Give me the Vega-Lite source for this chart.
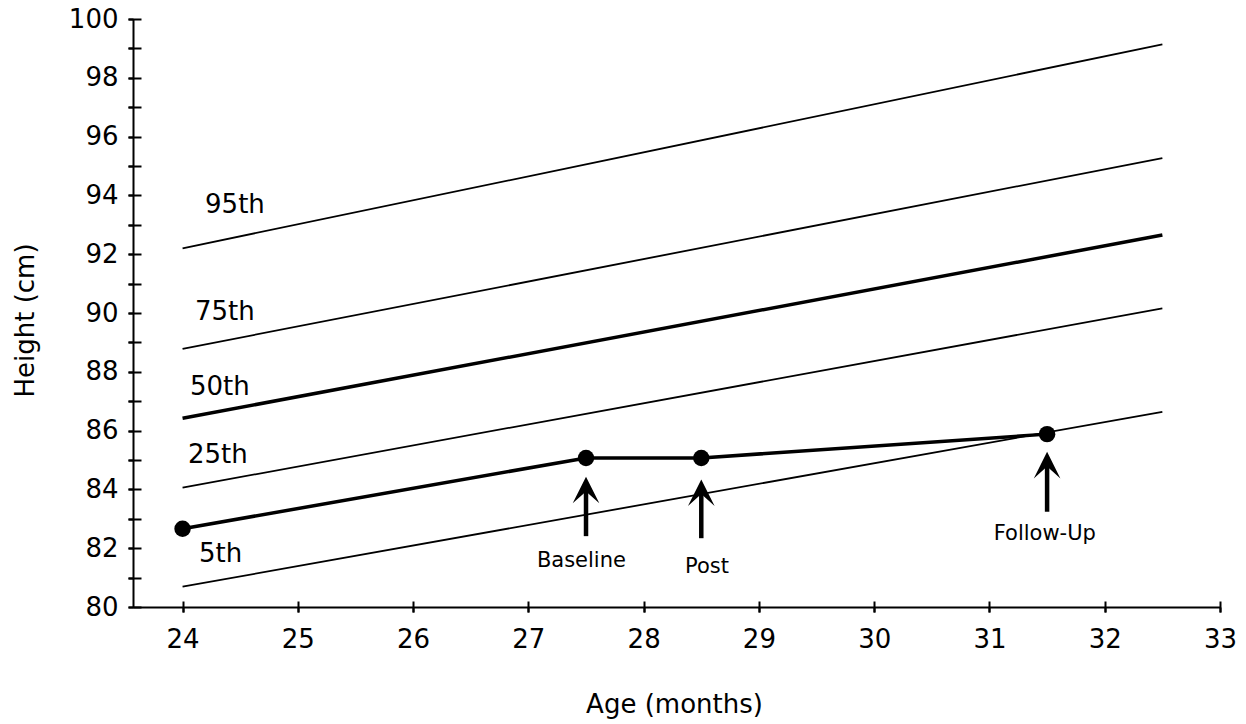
{
  "$schema": "https://vega.github.io/schema/vega-lite/v6.json",
  "width": 1087,
  "height": 588,
  "autosize": "none",
  "padding": {"left": 133, "top": 19, "right": 26, "bottom": 117},
  "background": "white",
  "config": {
    "view": {"stroke": null},
    "font": "DejaVu Sans",
    "axis": {"grid": false, "domainColor": "black", "tickColor": "black", "labelColor": "black", "titleColor": "black", "domainWidth": 2, "tickWidth": 2, "labelFont": "DejaVu Sans", "titleFont": "DejaVu Sans", "titleFontWeight": "normal", "labelFlush": false, "labelOverlap": false}
  },
  "datasets": {
    "percentiles": [
      {"pct": "95th", "age": 24, "height": 92.2},
      {"pct": "95th", "age": 32.5, "height": 99.14},
      {"pct": "75th", "age": 24, "height": 88.78},
      {"pct": "75th", "age": 32.5, "height": 95.27},
      {"pct": "50th", "age": 24, "height": 86.42},
      {"pct": "50th", "age": 32.5, "height": 92.65},
      {"pct": "25th", "age": 24, "height": 84.06},
      {"pct": "25th", "age": 32.5, "height": 90.16},
      {"pct": "5th", "age": 24, "height": 80.69},
      {"pct": "5th", "age": 32.5, "height": 86.64}
    ],
    "patient": [
      {"visit": "Start", "age": 24, "height": 82.66},
      {"visit": "Baseline", "age": 27.5, "height": 85.07},
      {"visit": "Post", "age": 28.5, "height": 85.07},
      {"visit": "Follow-Up", "age": 31.5, "height": 85.88}
    ],
    "arrows": [
      {"label": "Baseline", "age": 27.5, "tip": 84.43, "base": 82.41, "labelAge": 27.46, "labelHeight": 81.35},
      {"label": "Post", "age": 28.5, "tip": 84.34, "base": 82.34, "labelAge": 28.55, "labelHeight": 81.15},
      {"label": "Follow-Up", "age": 31.5, "tip": 85.28, "base": 83.24, "labelAge": 31.48, "labelHeight": 82.28}
    ],
    "pctLabels": [
      {"pct": "95th", "age": 24.195, "height": 93.39},
      {"pct": "75th", "age": 24.108, "height": 89.76},
      {"pct": "50th", "age": 24.064, "height": 87.21},
      {"pct": "25th", "age": 24.047, "height": 84.89},
      {"pct": "5th", "age": 24.143, "height": 81.54}
    ]
  },
  "layer": [
    {
      "data": {"name": "percentiles"},
      "transform": [{"filter": "datum.pct !== '50th'"}],
      "mark": {"type": "line", "color": "black", "strokeWidth": 1.8},
      "encoding": {
        "x": {"field": "age", "type": "quantitative", "scale": {"domain": [23.57, 33], "nice": false, "zero": false},
          "axis": {"orient": "bottom", "values": [24, 25, 26, 27, 28, 29, 30, 31, 32, 33], "tickSize": 5, "labelPadding": 14, "labelFontSize": 26,
            "title": "Age (months)", "titleFontSize": 26, "titleX": 541, "titleY": 105, "titleBaseline": "alphabetic", "titleAlign": "center"}},
        "y": {"field": "height", "type": "quantitative", "scale": {"domain": [80, 100], "nice": false, "zero": false},
          "axis": {"orient": "left", "values": [80, 81, 82, 83, 84, 85, 86, 87, 88, 89, 90, 91, 92, 93, 94, 95, 96, 97, 98, 99, 100],
            "labelExpr": "datum.value % 2 === 0 ? datum.label : ''", "tickSize": 5, "labelPadding": 10, "labelFontSize": 26,
            "title": "Height (cm)", "titleFontSize": 26, "titleX": -108, "titleY": 301, "titleAngle": -90, "titleBaseline": "middle", "titleAlign": "center"}},
        "detail": {"field": "pct"}
      }
    },
    {
      "data": {"name": "percentiles"},
      "transform": [{"filter": "datum.pct === '50th'"}],
      "mark": {"type": "line", "color": "black", "strokeWidth": 3.5},
      "encoding": {
        "x": {"field": "age", "type": "quantitative", "scale": {"domain": [23.57, 33], "nice": false, "zero": false},
          "axis": {"orient": "bottom", "offset": -6, "values": [24, 25, 26, 27, 28, 29, 30, 31, 32, 33], "tickSize": 11, "labels": false, "domain": false, "title": null}},
        "y": {"field": "height", "type": "quantitative", "scale": {"domain": [80, 100], "nice": false, "zero": false},
          "axis": {"orient": "left", "offset": -8, "values": [80, 81, 82, 83, 84, 85, 86, 87, 88, 89, 90, 91, 92, 93, 94, 95, 96, 97, 98, 99, 100], "tickSize": 13, "labels": false, "domain": false, "title": null}}
      }
    },
    {
      "data": {"name": "patient"},
      "mark": {"type": "line", "color": "black", "strokeWidth": 3.5},
      "encoding": {
        "x": {"field": "age", "type": "quantitative", "scale": {"domain": [23.57, 33], "nice": false, "zero": false}, "axis": null},
        "y": {"field": "height", "type": "quantitative", "scale": {"domain": [80, 100], "nice": false, "zero": false}, "axis": null}
      }
    },
    {
      "data": {"name": "patient"},
      "mark": {"type": "point", "shape": "circle", "filled": true, "color": "black", "opacity": 1, "size": 270},
      "encoding": {
        "x": {"field": "age", "type": "quantitative", "scale": {"domain": [23.57, 33], "nice": false, "zero": false}, "axis": null},
        "y": {"field": "height", "type": "quantitative", "scale": {"domain": [80, 100], "nice": false, "zero": false}, "axis": null}
      }
    },
    {
      "data": {"name": "arrows"},
      "mark": {"type": "rule", "color": "black", "strokeWidth": 4.5, "y2Offset": 13},
      "encoding": {
        "x": {"field": "age", "type": "quantitative", "scale": {"domain": [23.57, 33], "nice": false, "zero": false}, "axis": null},
        "y": {"field": "base", "type": "quantitative", "scale": {"domain": [80, 100], "nice": false, "zero": false}, "axis": null},
        "y2": {"field": "tip"}
      }
    },
    {
      "data": {"name": "arrows"},
      "mark": {"type": "point", "shape": "M0,0 L1,2 L0,1.1 L-1,2 Z", "filled": true, "color": "black", "opacity": 1, "size": 708},
      "encoding": {
        "x": {"field": "age", "type": "quantitative", "scale": {"domain": [23.57, 33], "nice": false, "zero": false}, "axis": null},
        "y": {"field": "tip", "type": "quantitative", "scale": {"domain": [80, 100], "nice": false, "zero": false}, "axis": null}
      }
    },
    {
      "data": {"name": "arrows"},
      "mark": {"type": "text", "color": "black", "fontSize": 21, "align": "center", "baseline": "alphabetic", "font": "DejaVu Sans"},
      "encoding": {
        "x": {"field": "labelAge", "type": "quantitative", "scale": {"domain": [23.57, 33], "nice": false, "zero": false}, "axis": null},
        "y": {"field": "labelHeight", "type": "quantitative", "scale": {"domain": [80, 100], "nice": false, "zero": false}, "axis": null},
        "text": {"field": "label"}
      }
    },
    {
      "data": {"name": "pctLabels"},
      "mark": {"type": "text", "color": "black", "fontSize": 26, "align": "left", "baseline": "alphabetic", "font": "DejaVu Sans"},
      "encoding": {
        "x": {"field": "age", "type": "quantitative", "scale": {"domain": [23.57, 33], "nice": false, "zero": false}, "axis": null},
        "y": {"field": "height", "type": "quantitative", "scale": {"domain": [80, 100], "nice": false, "zero": false}, "axis": null},
        "text": {"field": "pct"}
      }
    }
  ],
  "resolve": {"axis": {"x": "independent", "y": "independent"}}
}
